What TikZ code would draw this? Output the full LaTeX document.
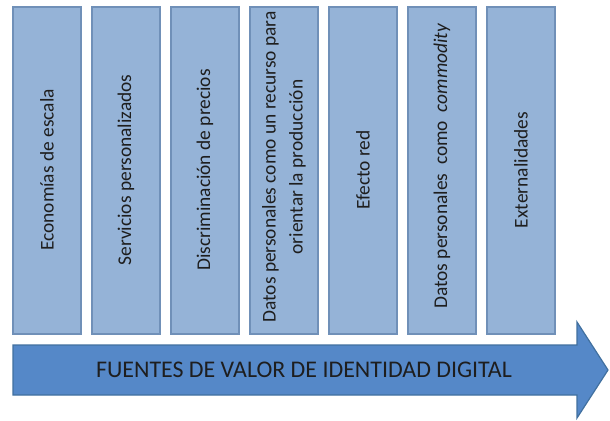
\documentclass[tikz,border=0pt]{standalone}
\usepackage{fontspec}
\setmainfont{Carlito}
\definecolor{boxfill}{HTML}{95B3D7}
\definecolor{boxline}{HTML}{7090B8}
\definecolor{arrfill}{HTML}{5588C8}
\definecolor{arrline}{HTML}{41709F}
\definecolor{txt}{HTML}{1E1E1E}
\tikzset{
  colbox/.style={draw=boxline, line width=1.2bp, fill=boxfill},
  coltext/.style={rotate=90, text=txt, font=\fontsize{19.5}{27}\selectfont, align=center, inner sep=0pt},
}
\begin{document}
\begin{tikzpicture}[x=1bp,y=-1bp]
\useasboundingbox (0,0) rectangle (610,420);
\fill[white] (0,0) rectangle (610,420);
% columns
\foreach \i in {0,...,6}{
  \draw[colbox] ({13+79*\i},7) rectangle ({81+79*\i},334);
}
\node[coltext] (t1) at (47,170) {Economías de escala};
\node[coltext] (t2) at (126,170) {Servicios personalizados};
\node[coltext] (t3) at (205,170) {Discriminación de precios};
\node[coltext] (t4) at (284,167) {Datos personales como un recurso para\\orientar la producción};
\node[coltext] (t5) at (363,170) {Efecto red};
\node[coltext] (t6) at (442,166) {Datos personales\ \ como\ \ \textit{commodity}};
\node[coltext] (t7) at (521,170) {Externalidades};
% arrow
\draw[draw=arrline, line width=1.2bp, fill=arrfill]
  (13,345) -- (577,345) -- (577,322) -- (608,370) -- (577,418) -- (577,395) -- (13,395) -- cycle;
\node[text=txt, font=\fontsize{24}{28}\selectfont, inner sep=0pt] (title) at (304,370) {FUENTES DE VALOR DE IDENTIDAD DIGITAL};
\end{tikzpicture}
\end{document}
